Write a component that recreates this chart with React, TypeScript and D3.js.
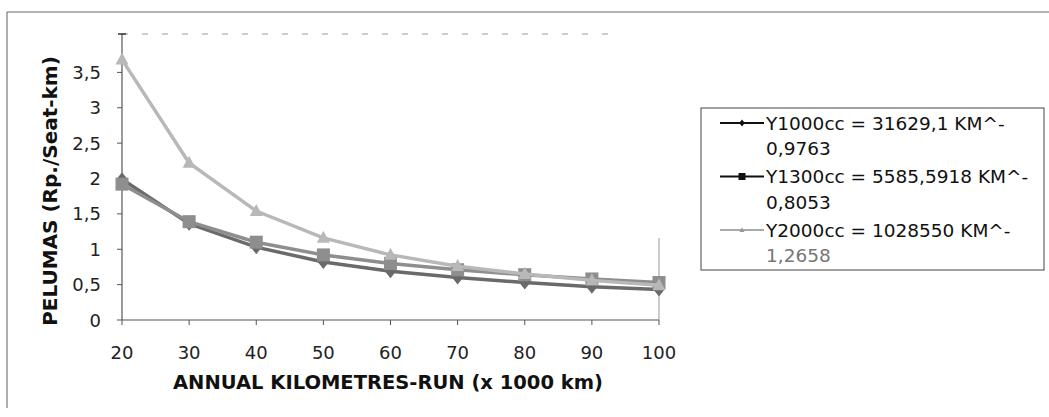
import React from "react";
import * as d3 from "d3";

const kmRun = [20, 30, 40, 50, 60, 70, 80, 90, 100];
const y1000cc = [1.99, 1.36, 1.03, 0.82, 0.69, 0.6, 0.53, 0.47, 0.43];
const y1300cc = [1.92, 1.39, 1.1, 0.92, 0.8, 0.71, 0.64, 0.58, 0.53];
const y2000cc = [3.68, 2.22, 1.54, 1.16, 0.92, 0.76, 0.65, 0.56, 0.49];
const yTicks = [0, 0.5, 1, 1.5, 2, 2.5, 3, 3.5];
const yTickLabels = ["0", "0,5", "1", "1,5", "2", "2,5", "3", "3,5"];
const legendLines = [
  ["Y1000cc = 31629,1 KM^-", "0,9763"],
  ["Y1300cc = 5585,5918 KM^-", "0,8053"],
  ["Y2000cc = 1028550 KM^-", "1,2658"],
];

const W = 1049;
const H = 417;
const FONT = "'DejaVu Sans', Verdana, sans-serif";

export default function App() {
  const x = d3.scaleLinear().domain([20, 100]).range([122, 659]);
  const y = d3.scaleLinear().domain([0, 4]).range([320, 37]);
  const line = d3
    .line<number>()
    .x((_, i) => x(kmRun[i]))
    .y((d) => y(d));

  const series = [
    { name: "y1000", values: y1000cc, color: "#6a6a6a", shape: "diamond" },
    { name: "y1300", values: y1300cc, color: "#8e8e8e", shape: "square" },
    { name: "y2000", values: y2000cc, color: "#b8b8b8", shape: "triangle" },
  ];

  const marker = (shape: string, cx: number, cy: number, color: string, s: number, key: string) => {
    if (shape === "diamond") {
      return (
        <path
          key={key}
          d={`M${cx},${cy - s}L${cx + s * 0.8},${cy}L${cx},${cy + s}L${cx - s * 0.8},${cy}Z`}
          fill={color}
        />
      );
    }
    if (shape === "square") {
      return <rect key={key} x={cx - s} y={cy - s} width={2 * s} height={2 * s} fill={color} />;
    }
    return (
      <path
        key={key}
        d={`M${cx},${cy - s * 1.1}L${cx + s},${cy + s * 0.75}L${cx - s},${cy + s * 0.75}Z`}
        fill={color}
      />
    );
  };

  return (
    <svg
      width={W}
      height={H}
      style={{ position: "absolute", left: 0, top: 0, background: "#fff" }}
      fontFamily={FONT}
    >
      {/* outer frame */}
      <line x1={7} y1={12} x2={W} y2={12} stroke="#666" strokeWidth={1} />
      <line x1={7} y1={12} x2={7} y2={408} stroke="#777" strokeWidth={1.2} />

      {/* faint plot area top */}
      <line x1={122} y1={34} x2={610} y2={34} stroke="#999" strokeWidth={1} strokeDasharray="6 14" />
      <line x1={659} y1={238} x2={659} y2={320} stroke="#999" strokeWidth={1} />

      {/* y axis */}
      <line x1={122} y1={34} x2={122} y2={320} stroke="#555" strokeWidth={1.2} />
      <line x1={118} y1={34} x2={126} y2={34} stroke="#333" strokeWidth={1.5} />
      {yTicks.map((t, i) => (
        <g key={"yt" + i}>
          <line x1={117} y1={y(t)} x2={122} y2={y(t)} stroke="#555" />
          <text x={101} y={y(t) + 6.5} fontSize={18} textAnchor="end" fill="#222">
            {yTickLabels[i]}
          </text>
        </g>
      ))}

      {/* x axis */}
      <line x1={122} y1={320} x2={659} y2={320} stroke="#555" strokeWidth={1.2} />
      {kmRun.map((k) => (
        <g key={"xt" + k}>
          <line x1={x(k)} y1={320} x2={x(k)} y2={325} stroke="#555" />
          <text x={x(k)} y={358.5} fontSize={18} textAnchor="middle" fill="#222">
            {k}
          </text>
        </g>
      ))}

      {/* axis titles */}
      <text
        x={388}
        y={389}
        fontSize={19.5}
        fontWeight="bold"
        textAnchor="middle"
        fill="#111"
      >
        ANNUAL KILOMETRES-RUN (x 1000 km)
      </text>
      <text
        transform="translate(57,191) rotate(-90)"
        fontSize={20}
        fontWeight="bold"
        textAnchor="middle"
        fill="#111"
      >
        PELUMAS (Rp./Seat-km)
      </text>

      {/* series */}
      {series.map((s) => (
        <g key={s.name}>
          <path d={line(s.values) || ""} fill="none" stroke={s.color} strokeWidth={3.5} />
          {s.values.map((v, i) =>
            marker(s.shape, x(kmRun[i]), y(v), s.color, s.shape === "diamond" ? 7 : 6.5, s.name + i)
          )}
        </g>
      ))}

      {/* legend */}
      <rect x={701} y={108} width={343} height={162} fill="#fff" stroke="#444" strokeWidth={1} />
      {series.map((s, i) => {
        const cy = 123 + i * 53.5;
        return (
          <g key={"lg" + i}>
            <line
              x1={720}
              y1={cy}
              x2={764}
              y2={cy}
              stroke={i === 2 ? "#555" : "#111"}
              strokeWidth={i === 2 ? 1.2 : 1.8}
            />
            {marker(s.shape, 742, cy, i === 2 ? "#999" : "#111", i === 2 ? 2.5 : 3.5, "lm" + i)}
            <text x={766} y={cy + 6.5} fontSize={18.5} fill="#111">
              {legendLines[i][0]}
            </text>
            <text x={766} y={cy + 32} fontSize={18.5} fill={i === 2 ? "#777" : "#111"}>
              {legendLines[i][1]}
            </text>
          </g>
        );
      })}
    </svg>
  );
}
